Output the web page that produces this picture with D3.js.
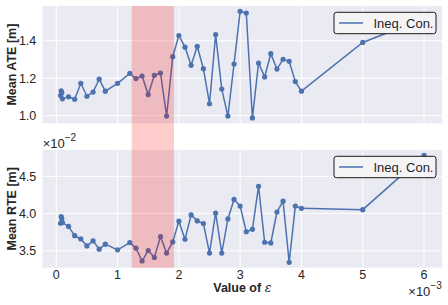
<!DOCTYPE html>
<html><head><meta charset="utf-8">
<script src="https://cdn.jsdelivr.net/npm/d3@7"></script>
<style>body{margin:0;background:#fff}svg{display:block}text{font-family:"Liberation Sans",Arial,sans-serif}</style>
</head><body><svg id="c" width="448" height="305"></svg>
<script>
// epsilon values (x 10^-3)
const eps = [0.07,0.08,0.09,0.1,0.2,0.3,0.4,0.5,0.6,0.7,0.8,1.0,1.2,1.3,1.4,1.5,1.6,1.7,1.8,1.9,2.0,2.1,2.2,2.3,2.4,2.5,2.6,2.7,2.8,2.9,3.0,3.1,3.2,3.3,3.4,3.5,3.6,3.7,3.8,3.9,4.0,5.0,6.0];
const ate = [1.108,1.133,1.122,1.090,1.101,1.088,1.173,1.104,1.126,1.195,1.131,1.173,1.226,1.198,1.212,1.113,1.216,1.228,0.998,1.315,1.428,1.366,1.269,1.370,1.251,1.064,1.433,1.142,0.998,1.276,1.557,1.548,0.988,1.281,1.207,1.331,1.249,1.301,1.290,1.182,1.131,1.391,1.52];
// RTE values (x 10^-2)
const rte = [3.87,3.96,3.93,3.88,3.827,3.703,3.659,3.566,3.633,3.522,3.589,3.513,3.610,3.536,3.363,3.504,3.411,3.690,3.469,3.619,3.898,3.655,3.982,3.902,3.867,3.469,4.008,3.469,3.928,4.190,4.101,3.756,3.788,4.366,3.615,3.606,4.021,4.167,3.345,4.101,4.070,4.053,4.782];
const xTicks = [0,1,2,3,4,5,6];
const ateTicks = [1.0,1.2,1.4];
const rteTicks = [3.5,4.0,4.5];
const span = [1.23,1.92];
const seriesName = "Ineq. Con.";

const svg = d3.select("#c");
const L = 42.4, R = 442.2;
const col = "#4C72B0";
function pad(ext){const r=ext[1]-ext[0];return [ext[0]-0.05*r, ext[1]+0.05*r];}
const x = d3.scaleLinear().domain(pad(d3.extent(eps))).range([L,R]);

function panel(vals, ticks, top, bot, label, fmt){
  const y = d3.scaleLinear().domain(pad(d3.extent(vals))).range([bot,top]);
  const g = svg.append("g");
  g.append("rect").attr("x",L).attr("y",top).attr("width",R-L).attr("height",bot-top).attr("fill","#EAEAF2");
  g.selectAll(".vg").data(xTicks).join("line").attr("x1",d=>x(d)).attr("x2",d=>x(d)).attr("y1",top).attr("y2",bot).attr("stroke","#fff").attr("stroke-width",1);
  g.selectAll(".hg").data(ticks).join("line").attr("x1",L).attr("x2",R).attr("y1",d=>y(d)).attr("y2",d=>y(d)).attr("stroke","#fff").attr("stroke-width",1);
  g.selectAll(".yt").data(ticks).join("text").attr("x",36.3).attr("y",d=>y(d)+4.5).attr("text-anchor","end").attr("font-size","12.5px").attr("fill","#262626").text(fmt);
  g.append("text").attr("transform",`translate(16,${(top+bot)/2}) rotate(-90)`).attr("text-anchor","middle").attr("font-size","12.5px").attr("font-weight","bold").attr("fill","#262626").text(label);
  const line = d3.line().x((d,i)=>x(eps[i])).y(d=>y(d));
  g.append("path").datum(vals).attr("d",line).attr("fill","none").attr("stroke",col).attr("stroke-width",1.5);
  g.selectAll(".pt").data(vals).join("circle").attr("cx",(d,i)=>x(eps[i])).attr("cy",d=>y(d)).attr("r",2.6).attr("fill",col);
  // legend
  const lg = g.append("g").attr("transform",`translate(334,${top+6.3})`);
  lg.append("rect").attr("width",102).attr("height",21.4).attr("rx",2.5).attr("fill","#F4F4F6").attr("stroke","#000").attr("stroke-width",0.9);
  lg.append("line").attr("x1",5).attr("x2",29).attr("y1",10.7).attr("y2",10.7).attr("stroke",col).attr("stroke-width",1.5);
  lg.append("text").attr("x",39.5).attr("y",15.4).attr("font-size","13px").attr("fill","#262626").text(seriesName);
  return y;
}
panel(ate, ateTicks, 6, 123.3, "Mean ATE [m]", d=>d.toFixed(1));
panel(rte, rteTicks, 150, 267.7, "Mean RTE [m]", d=>d.toFixed(1));

// x tick labels (bottom)
svg.selectAll(".xt").data(xTicks).join("text").attr("x",d=>x(d)).attr("y",279).attr("text-anchor","middle").attr("font-size","12.5px").attr("fill","#262626").text(d=>d);
// x label
const xl = svg.append("text").attr("x",(L+R)/2).attr("y",291.5).attr("text-anchor","middle").attr("font-size","12.5px").attr("font-weight","bold").attr("fill","#262626");
xl.append("tspan").text("Value of ");
xl.append("tspan").attr("font-family","DejaVu Serif").attr("font-style","italic").attr("font-weight","normal").text("ε");
// offset texts
const o1 = svg.append("text").attr("x",42.7).attr("y",147.5).attr("font-size","13px").attr("fill","#262626");
o1.append("tspan").text("×10");
o1.append("tspan").attr("dy",-6.5).attr("font-size","10px").text("−2");
const o2 = svg.append("text").attr("x",408.3).attr("y",295.5).attr("font-size","13px").attr("fill","#262626");
o2.append("tspan").text("×10");
o2.append("tspan").attr("dy",-6.5).attr("font-size","10px").text("−3");
// highlighted span
svg.append("rect").attr("x",x(span[0])).attr("y",6).attr("width",x(span[1])-x(span[0])).attr("height",267.7-6).attr("fill","rgba(255,0,0,0.2)");
</script></body></html>
